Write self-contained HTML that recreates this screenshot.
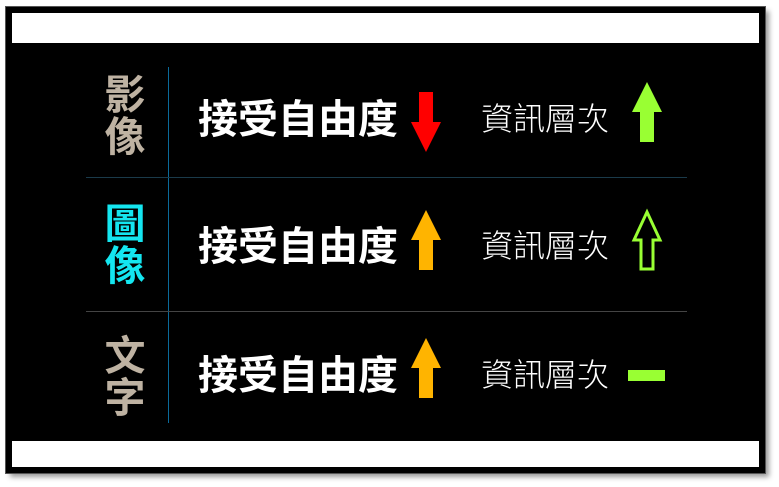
<!DOCTYPE html>
<html><head><meta charset="utf-8"><style>
body{margin:0;width:779px;height:487px;background:#fff;position:relative;overflow:hidden;font-family:"Liberation Sans","Noto Sans CJK TC",sans-serif}
.a{position:absolute}
.frame{left:6px;top:7px;width:747px;height:454px;border:6px solid #000;outline:1px solid #555;box-shadow:4px 4px 5px #999;background:#fff}
.blk{left:12px;top:43px;width:747px;height:398px;background:#000}
.lbl{font-weight:bold;font-size:41px;line-height:42px;width:44px;text-align:center;left:103px}
.big{color:#fff;font-weight:bold;font-size:40px;left:198px;line-height:48px;letter-spacing:0}
.sm{color:#fff;font-size:32px;left:481px;line-height:40px;font-weight:300}
</style></head><body>
<div class="a frame"></div>
<div class="a blk"></div>
<div class="a" style="left:168px;top:67px;width:1px;height:356px;background:#0a6a9a"></div>
<div class="a" style="left:86px;top:177px;width:601px;height:1px;background:#1a3a4a"></div>
<div class="a" style="left:86px;top:311px;width:601px;height:1px;background:#444"></div>
<div class="a lbl" style="top:74px;color:#beb2a2">影<br>像</div>
<div class="a lbl" style="top:203px;color:#14e6f0">圖<br>像</div>
<div class="a lbl" style="top:335px;color:#beb2a2">文<br>字</div>
<div class="a big" style="top:96px">接受自由度</div>
<div class="a big" style="top:223px">接受自由度</div>
<div class="a big" style="top:352px">接受自由度</div>
<div class="a sm" style="top:99px">資訊層次</div>
<div class="a sm" style="top:226px">資訊層次</div>
<div class="a sm" style="top:355px">資訊層次</div>
<svg class="a" style="left:0;top:0" width="779" height="487">
<polygon points="419,92 433,92 433,122 441,122 426,152 411,122 419,122" fill="#f00"/>
<polygon points="426,210 441,240 433,240 433,270 419,270 419,240 411,240" fill="#ffb400"/>
<polygon points="426,338 441,368 433,368 433,398 419,398 419,368 411,368" fill="#ffb400"/>
<polygon points="647,82 662,112 654,112 654,142 640,142 640,112 632,112" fill="#99ff33"/>
<polygon points="647,212 660,240 653,240 653,269 641,269 641,240 634,240" fill="none" stroke="#99ff33" stroke-width="3"/>
<rect x="628" y="370" width="37" height="11" fill="#99ff33"/>
</svg>
</body></html>
